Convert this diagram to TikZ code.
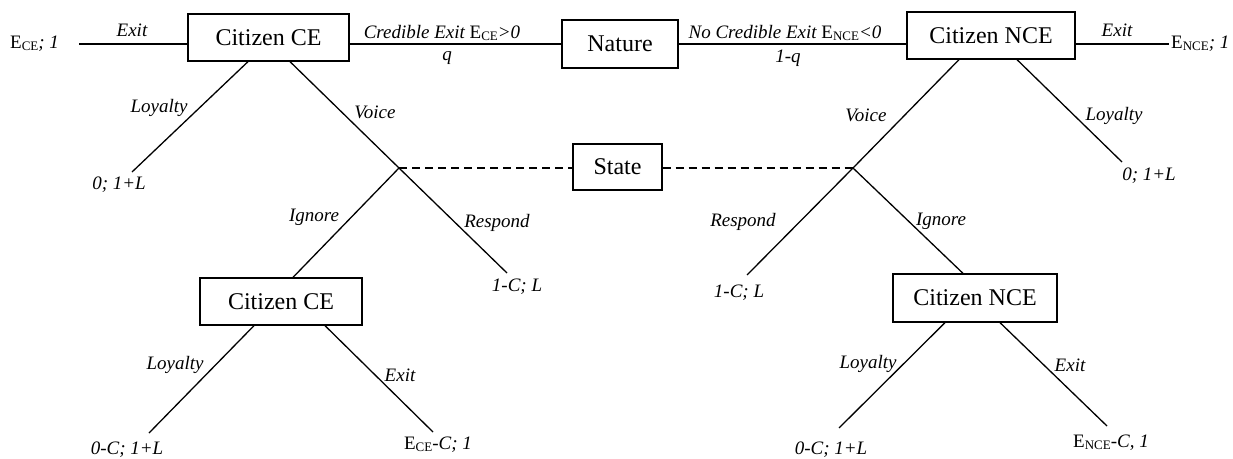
\documentclass[tikz,border=0pt]{standalone}
\usepackage{fontspec}
\setmainfont{Liberation Serif}
\newcommand\sbs[1]{\raisebox{-2pt}{\fontsize{13}{13}\selectfont\upshape #1}}
\newcommand\Esub[1]{{\upshape E\sbs{#1}}}
\begin{document}
\begin{tikzpicture}[x=1pt,y=-1pt,
  box/.style={draw,line width=1.3pt,fill=white,font=\fontsize{24}{28}\selectfont,inner sep=0pt},
  lbl/.style={font=\fontsize{19}{22}\selectfont\itshape,inner sep=0pt},
  edge/.style={line width=1.3pt},
  info/.style={line width=1.3pt,dash pattern=on 8pt off 5pt}]
\useasboundingbox (0,0) rectangle (1233,458);

% boxes
\node[box,minimum width=161pt,minimum height=47pt] (ceTop) at (268.5,37.5) {Citizen CE\hspace{20pt}};
\node[box,minimum width=116pt,minimum height=48pt] (nature) at (620,44) {Nature\hspace{12pt}};
\node[box,minimum width=168pt,minimum height=47pt] (nceTop) at (991,35.5) {Citizen NCE};
\node[box,minimum width=89pt,minimum height=46pt] (state) at (617.5,167) {State};
\node[box,minimum width=162pt,minimum height=47pt] (ceLow) at (281,301.5) {Citizen CE\hspace{22pt}};
\node[box,minimum width=164pt,minimum height=48pt] (nceLow) at (975,298) {Citizen NCE};

% coordinates
\coordinate (ceExit) at (79,44);
\coordinate (nceExit) at (1169,44);
\coordinate (ceV) at (399,168);
\coordinate (ceL) at (132,172);
\coordinate (ceR) at (507,273);
\coordinate (ceLL) at (149,433);
\coordinate (ceLE) at (433,432);
\coordinate (nceV) at (853,168);
\coordinate (nceL) at (1122,162);
\coordinate (nceR) at (747,275);
\coordinate (nceLL) at (839,428);
\coordinate (nceLE) at (1107,426);

% top line
\draw[edge] (ceExit) -- (ceExit -| ceTop.west);
\draw[edge] (ceTop.east |- nature.west) -- (nature.west);
\draw[edge] (nature.east) -- (nature.east -| nceTop.west);
\draw[edge] (nceTop.east |- nceExit) -- (nceExit);

% left tree
\draw[edge] ([xshift=-20.5pt]ceTop.south) -- (ceL);
\draw[edge] ([xshift=21.5pt]ceTop.south) -- (ceV);
\draw[edge] (ceV) -- (ceR);
\draw[edge] (ceV) -- ([xshift=12pt]ceLow.north);
\draw[edge] ([xshift=-27pt]ceLow.south) -- (ceLL);
\draw[edge] ([xshift=44pt]ceLow.south) -- (ceLE);

% right tree
\draw[edge] ([xshift=-32pt]nceTop.south) -- (nceV);
\draw[edge] ([xshift=26pt]nceTop.south) -- (nceL);
\draw[edge] (nceV) -- (nceR);
\draw[edge] (nceV) -- ([xshift=-12pt]nceLow.north);
\draw[edge] ([xshift=-30pt]nceLow.south) -- (nceLL);
\draw[edge] ([xshift=25pt]nceLow.south) -- (nceLE);

% information set
\draw[info] (ceV) -- (ceV -| state.west);
\draw[info] (state.east |- nceV) -- (nceV);

% labels top
\node[lbl] (lExitL) at (132,30) {Exit};
\node[lbl,anchor=west] (tCE) at (10,44) {\Esub{CE}; 1};
\node[lbl] (lCred) at (442,33) {Credible Exit \Esub{CE}>0};
\node[lbl] (lq) at (447,58) {q};
\node[lbl] (lNCred) at (785,33) {No Credible Exit \Esub{NCE}<0};
\node[lbl] (l1q) at (788,58) {1-q};
\node[lbl] (lExitR) at (1117,30) {Exit};
\node[lbl,anchor=west] (tNCE) at (1171,44) {\Esub{NCE}; 1};

% labels left tree
\node[lbl] (lLoyL) at (159,108) {Loyalty};
\node[lbl] (tLoyL) at (119,185) {0; 1+L};
\node[lbl] (lVoiceL) at (375,112) {Voice};
\node[lbl] (lIgnL) at (314,217) {Ignore};
\node[lbl] (lRespL) at (497,223) {Respond};
\node[lbl] (tRespL) at (517,287) {1-C; L};
\node[lbl] (lLoyLL) at (175,365) {Loyalty};
\node[lbl] (lExitLL) at (400,375) {Exit};
\node[lbl] (tLoyLL) at (127,450) {0-C; 1+L};
\node[lbl] (tExitLL) at (438,445) {\Esub{CE}-C; 1};

% labels right tree
\node[lbl] (lVoiceR) at (866,115) {Voice};
\node[lbl] (lLoyR) at (1114,116) {Loyalty};
\node[lbl] (tLoyR) at (1149,176) {0; 1+L};
\node[lbl] (lRespR) at (743,222) {Respond};
\node[lbl] (lIgnR) at (941,221) {Ignore};
\node[lbl] (tRespR) at (739,293) {1-C; L};
\node[lbl] (lLoyRL) at (868,364) {Loyalty};
\node[lbl] (lExitRL) at (1070,365) {Exit};
\node[lbl] (tLoyRL) at (831,450) {0-C; 1+L};
\node[lbl] (tExitRL) at (1111,443) {\Esub{NCE}-C, 1};
\end{tikzpicture}
\end{document}
